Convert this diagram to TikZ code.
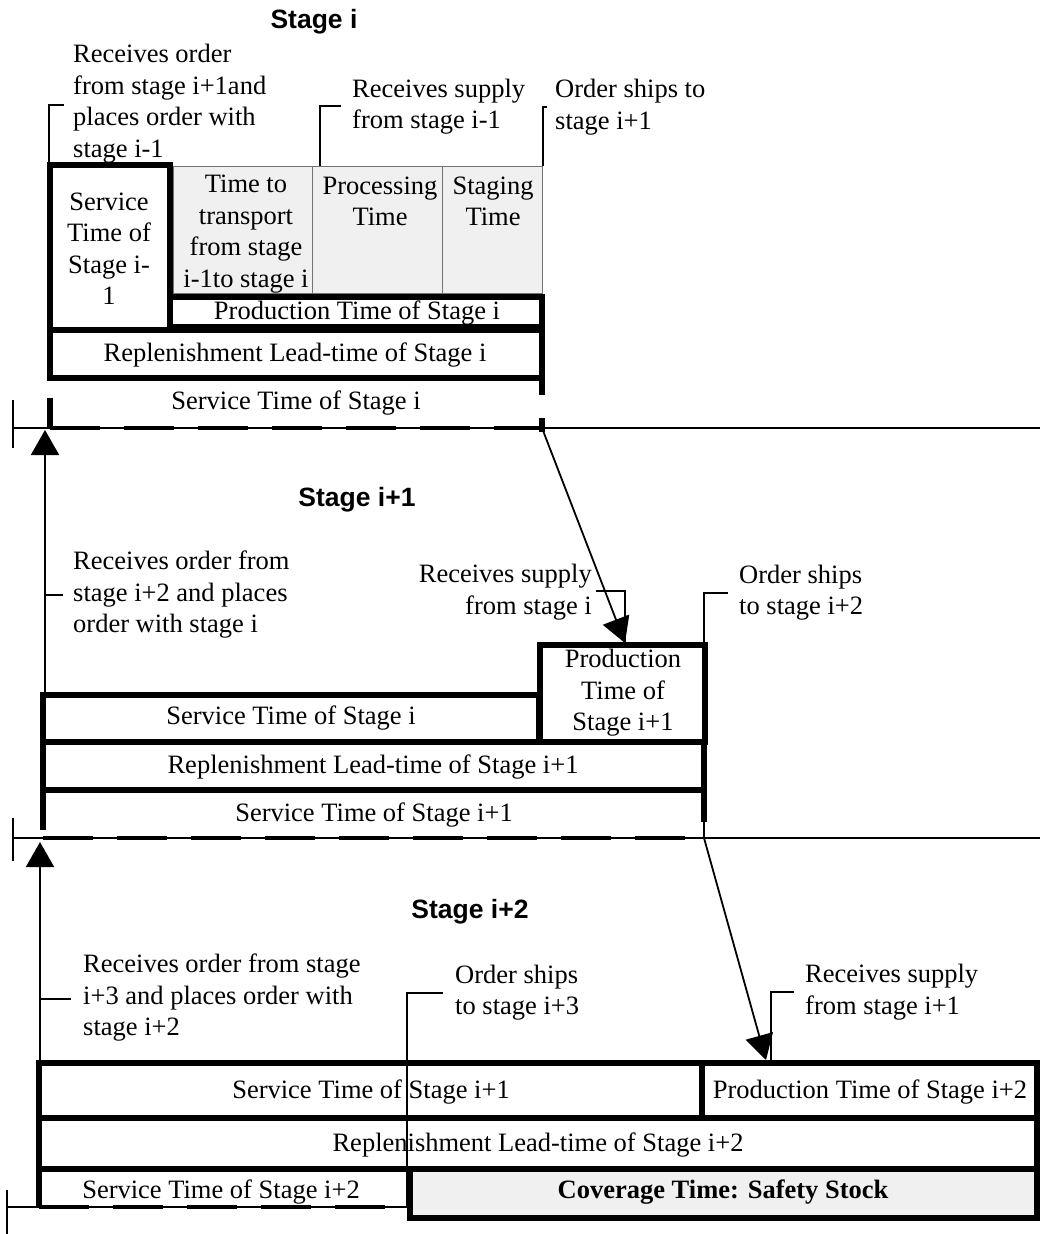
\documentclass[tikz,border=0pt]{standalone}
\usepackage{fontspec}
\setmainfont{Liberation Serif}
\setsansfont{Liberation Sans}
\usetikzlibrary{arrows.meta}
\begin{document}
\begin{tikzpicture}[x=1pt,y=-1pt,
  txt/.style={font=\fontsize{26.5}{31.5}\selectfont, inner sep=0pt, align=center},
  ltxt/.style={txt, align=left, anchor=west},
  rtxt/.style={txt, align=right, anchor=east},
  title/.style={font=\fontsize{26.5}{30}\selectfont\sffamily\bfseries, inner sep=0pt},
  heavy/.style={draw, line width=6pt},
  stipple/.style={draw=black!55, line width=0.8pt, fill=black!6},
  hairline/.style={line width=1.3pt},
  axis/.style={line width=1.5pt},
  dashaxis/.style={line width=4.5pt, dash pattern=on 50pt off 24pt},
  flow/.style={line width=1.8pt, -{Triangle[length=25pt,width=28pt]}},
]
\useasboundingbox (0,0) rectangle (1040,1234);

%% ---------------- Stage i ----------------
\node[title] (ti) at (314,22) {Stage i};
\node[ltxt] (ci1) at (73,103.5) {Receives order\\from stage i+1and\\places order with\\stage i-1};
\node[ltxt] (ci2) at (352,106.5) {Receives supply\\from stage i-1};
\node[ltxt] (ci3) at (555,107) {Order ships to\\stage i+1};
\draw[hairline] (49,165) -- (49,105) -- (64,105);
\draw[hairline] (320,166) -- (320,106) -- (341,106);
\draw[hairline] (543,166) -- (543,107) -- (547,107);

% component times
\draw[stipple] (173,166) rectangle (312,293);
\draw[stipple] (312,166) rectangle (442,293);
\draw[stipple] (442,166) rectangle (542,293);
\draw[heavy] (50,165) rectangle (170,330);
\draw[heavy] (170,297) rectangle (542,327);
\draw[heavy] (50,330) rectangle (542,378);
\node[txt] (svcprev) at (109,248.5) {Service\\Time of\\Stage i-\\1};
\node[txt] (transp) at (246,234) {Time to\\transport\\from stage\\i-1to stage i};
\node[txt] (proc) at (380,201.5) {Processing\\Time};
\node[txt] (stag) at (493,201.5) {Staging\\Time};
\node[txt] (prodi) at (357,313) {Production Time of Stage i};
\node[txt] (repli) at (295,355) {Replenishment Lead-time of Stage i};
\node[txt] (svci) at (296,403) {Service Time of Stage i};
\draw[line width=6pt] (542,378) -- (542,395);
\draw[line width=6pt] (542,418) -- (542,432);
\draw[line width=6pt] (50,398) -- (50,428);

% time axis
\draw[axis] (13,428) -- (1040,428);
\draw[dashaxis] (50,428) -- (542,428);
\draw[axis] (13,400) -- (13,448);

%% ---------------- Stage i+1 ----------------
\coordinate (shipi) at (542,428);
\coordinate (recvi1) at (625,643);
\coordinate (ordi1) at (45,692);
\coordinate (upi1) at (45,430);

\node[title] (ti1) at (357,500) {Stage i+1};
\node[ltxt] (cj1) at (73,595) {Receives order from\\stage i+2 and places\\order with stage i};
\draw[hairline] (45,595) -- (63,595);
\node[rtxt] (cj2) at (592,592) {Receives supply\\from stage i};
\draw[hairline] (596,591) -- (625,591) -- (625,643);
\node[ltxt] (cj3) at (739,592.5) {Order ships\\to stage i+2};
\draw[hairline] (728,593) -- (704,593) -- (704,645);

\draw[heavy] (43,695) rectangle (539,742);
\draw[heavy] (540,645) rectangle (705,742);
\draw[heavy] (43,742) rectangle (704,790);
\draw[line width=6pt] (43,790) -- (43,830);
\draw[line width=6pt] (704,790) -- (704,822);
\draw[axis] (704,822) -- (704,838);
\node[txt] (svcj) at (291,718) {Service Time of Stage i};
\node[txt] (prodj) at (623,693) {Production\\Time of\\Stage i+1};
\node[txt] (replj) at (373,767) {Replenishment Lead-time of Stage i+1};
\node[txt] (svcj1) at (374,815) {Service Time of Stage i+1};

\draw[flow] (shipi) -- (recvi1);
\draw[flow] (ordi1) -- (upi1);

\draw[axis] (13,838) -- (1040,838);
\draw[dashaxis] (43,838) -- (704,838);
\draw[axis] (13,818) -- (13,861);

%% ---------------- Stage i+2 ----------------
\coordinate (shipi1) at (704,838);
\coordinate (recvi2) at (766,1060);
\coordinate (ordi2) at (40,1063);
\coordinate (upi2) at (40,842);

\node[title] (ti2) at (470,912) {Stage i+2};
\node[ltxt] (ck1) at (83,998) {Receives order from stage\\i+3 and places order with\\stage i+2};
\draw[hairline] (40,999) -- (71,999);
\node[ltxt] (ck2) at (455,992.5) {Order ships\\to stage i+3};
\node[ltxt] (ck3) at (805,992) {Receives supply\\from stage i+1};
\draw[hairline] (794,992) -- (771,992) -- (771,1063);

\draw[heavy] (39,1063) rectangle (702,1118);
\draw[heavy] (702,1063) rectangle (1037,1118);
\draw[heavy] (39,1118) rectangle (1037,1169);
\draw[heavy, fill=black!6] (410,1169) rectangle (1037,1218);
\draw[line width=6pt] (39,1169) -- (39,1207);
\node[txt] (svck) at (371,1092) {Service Time of Stage i+1};
\node[txt] (prodk) at (870,1092) {Production Time of Stage i+2};
\node[txt] (replk) at (538,1145) {Replenishment Lead-time of Stage i+2};
\node[txt] (svck2) at (221,1192) {Service Time of Stage i+2};
\node[txt, font=\fontsize{26.5}{31.5}\selectfont\bfseries] (cover) at (723,1192) {Coverage Time: Safety Stock};
\draw[hairline] (443,993) -- (407,993) -- (407,1207);

\draw[flow] (shipi1) -- (recvi2);
\draw[flow] (ordi2) -- (upi2);

\draw[axis] (7,1207) -- (410,1207);
\draw[dashaxis] (39,1207) -- (407,1207);
\draw[axis] (7,1190) -- (7,1234);
\end{tikzpicture}
\end{document}
